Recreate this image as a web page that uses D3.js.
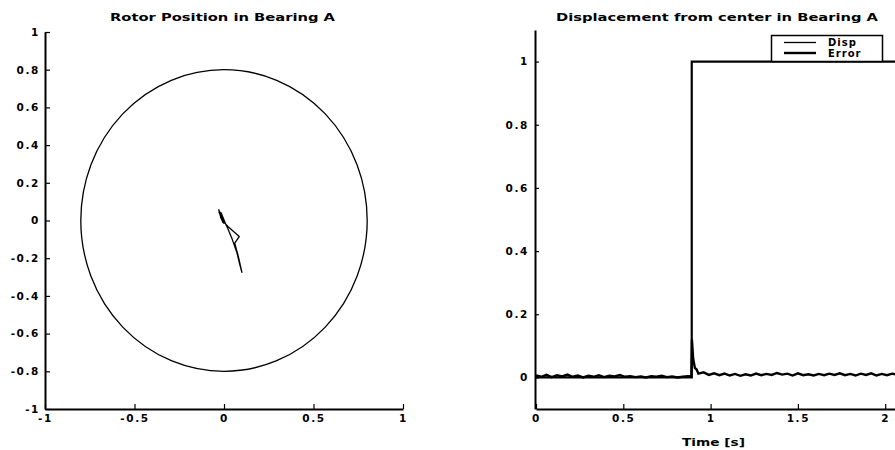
<!DOCTYPE html>
<html>
<head>
<meta charset="utf-8">
<script src="https://cdn.jsdelivr.net/npm/d3@7"></script>
<style>
  body { margin: 0; background: #fff; }
  svg { display: block; }
  .tick text, .lbl { font-family: "DejaVu Sans", sans-serif; font-weight: bold; fill: #000; }
</style>
</head>
<body>
<div id="chart"></div>
<script>
// ---- data -------------------------------------------------------------
const rotorTicksY = [-1, -0.8, -0.6, -0.4, -0.2, 0, 0.2, 0.4, 0.6, 0.8, 1];
const rotorTicksX = [-1, -0.5, 0, 0.5, 1];
const clearanceRadius = 0.8;

// rotor orbit in bearing A (x, y)
const rotorPath = [
  [-0.03, 0.06], [-0.02, 0.03], [-0.026, 0.05], [-0.01, 0.0], [-0.028, 0.045],
  [-0.006, -0.01], [-0.02, 0.02], [0.0, -0.015], [-0.016, 0.04], [0.01, -0.02],
  [0.022, -0.032], [0.085, -0.085], [0.06, -0.12], [0.08, -0.19], [0.1, -0.275],
  [0.09, -0.24], [0.072, -0.17], [0.046, -0.1], [0.02, -0.04], [0.0, 0.0],
  [-0.02, 0.04], [-0.03, 0.055]
];

const dispTicksY = [0, 0.2, 0.4, 0.6, 0.8, 1];
const dispTicksX = [0, 0.5, 1, 1.5, 2];

// displacement step (time, value)
const dispSeries = [[0, 0], [0.892, 0], [0.892, 1], [2.5, 1]];

// error signal (time, value)
const errorSeries = [
  [0.00, 0.006], [0.03, 0.002], [0.06, 0.008], [0.09, 0.001], [0.12, 0.007],
  [0.15, 0.003], [0.18, 0.009], [0.21, 0.002], [0.24, 0.006], [0.27, 0.000],
  [0.30, 0.005], [0.33, 0.002], [0.36, 0.007], [0.39, 0.001], [0.42, 0.005],
  [0.45, 0.003], [0.48, 0.008], [0.51, 0.002], [0.54, 0.004], [0.57, 0.001],
  [0.60, 0.003], [0.63, 0.000], [0.66, 0.004], [0.69, 0.002], [0.72, 0.005],
  [0.75, 0.001], [0.78, 0.003], [0.81, 0.000], [0.84, 0.002], [0.87, 0.004],
  [0.89, 0.003], [0.893, 0.12], [0.90, 0.06], [0.91, 0.03], [0.92, 0.025],
  [0.93, 0.012], [0.96, 0.016], [0.99, 0.008], [1.02, 0.013], [1.05, 0.007],
  [1.08, 0.012], [1.11, 0.006], [1.14, 0.011], [1.17, 0.005], [1.20, 0.010],
  [1.23, 0.006], [1.26, 0.012], [1.29, 0.007], [1.32, 0.011], [1.35, 0.008],
  [1.38, 0.014], [1.41, 0.009], [1.44, 0.012], [1.47, 0.006], [1.50, 0.013],
  [1.53, 0.007], [1.56, 0.010], [1.59, 0.006], [1.62, 0.011], [1.65, 0.007],
  [1.68, 0.012], [1.71, 0.008], [1.74, 0.013], [1.77, 0.007], [1.80, 0.011],
  [1.83, 0.006], [1.86, 0.012], [1.89, 0.008], [1.92, 0.013], [1.95, 0.006],
  [1.98, 0.011], [2.01, 0.007], [2.04, 0.012], [2.07, 0.008], [2.10, 0.011],
  [2.20, 0.007], [2.30, 0.012], [2.40, 0.008], [2.50, 0.010]
];

const legendItems = [
  { name: 'Disp', width: 1.3 },
  { name: 'Error', width: 2.4 }
];

// ---- svg --------------------------------------------------------------
const width = 895, height = 450;

const svg = d3.select('#chart').append('svg')
  .attr('width', width)
  .attr('height', height)
  .attr('viewBox', [0, 0, width, height]);

function styleAxis(g) {
  g.select('.domain').attr('stroke', '#000').attr('stroke-width', 2);
  g.selectAll('.tick line').attr('stroke', '#000').attr('stroke-width', 1.2);
  g.selectAll('.tick text')
    .attr('font-size', 10.5)
    .attr('letter-spacing', 1.6);
}

const fmt = d => String(d);

// ---- left: rotor position --------------------------------------------
const xL = d3.scaleLinear().domain([-1, 1]).range([45, 403]);
const yL = d3.scaleLinear().domain([-1, 1]).range([409, 32]);

const left = svg.append('g').attr('id', 'rotor');

left.append('ellipse')
  .attr('cx', xL(0))
  .attr('cy', yL(0))
  .attr('rx', xL(clearanceRadius) - xL(0))
  .attr('ry', yL(0) - yL(clearanceRadius))
  .attr('fill', 'none')
  .attr('stroke', '#000')
  .attr('stroke-width', 1.3);

left.append('path')
  .datum(rotorPath)
  .attr('d', d3.line().x(d => xL(d[0])).y(d => yL(d[1])))
  .attr('fill', 'none')
  .attr('stroke', '#000')
  .attr('stroke-width', 1.3)
  .attr('stroke-linejoin', 'round');

left.append('g')
  .attr('transform', `translate(${xL(-1)},0)`)
  .call(d3.axisLeft(yL).tickValues(rotorTicksY).tickFormat(fmt)
    .tickSizeInner(-5).tickSizeOuter(0).tickPadding(5))
  .call(styleAxis);

left.append('g')
  .attr('transform', `translate(0,${yL(-1)})`)
  .call(d3.axisBottom(xL).tickValues(rotorTicksX).tickFormat(fmt)
    .tickSizeInner(-5).tickSizeOuter(0).tickPadding(6))
  .call(styleAxis);

left.append('text')
  .attr('class', 'lbl')
  .attr('x', 110).attr('y', 20.5)
  .attr('font-size', 10.5)
  .attr('textLength', 225)
  .attr('lengthAdjust', 'spacingAndGlyphs')
  .text('Rotor Position in Bearing A');

// ---- right: displacement ---------------------------------------------
const xR = d3.scaleLinear().domain([0, 2.5]).range([536, 536 + 2.5 * 174.6]);
const yR = d3.scaleLinear().domain([-0.1, 1.1]).range([409, 30]);

const right = svg.append('g').attr('id', 'displacement');

const lineR = d3.line().x(d => xR(d[0])).y(d => yR(d[1]));

right.append('path')
  .datum(errorSeries)
  .attr('d', lineR)
  .attr('fill', 'none')
  .attr('stroke', '#000')
  .attr('stroke-width', 2.4);

right.append('path')
  .datum(dispSeries)
  .attr('d', lineR)
  .attr('fill', 'none')
  .attr('stroke', '#000')
  .attr('stroke-width', 2.2);

right.append('g')
  .attr('transform', `translate(535,0)`)
  .call(d3.axisLeft(yR).tickValues(dispTicksY).tickFormat(fmt)
    .tickSizeInner(-4).tickSizeOuter(0).tickPadding(6))
  .call(styleAxis);

right.append('g')
  .attr('transform', `translate(0,${yR(-0.1)})`)
  .call(d3.axisBottom(xR).tickValues(dispTicksX).tickFormat(fmt)
    .tickSizeInner(-5).tickSizeOuter(0).tickPadding(6))
  .call(styleAxis);

right.append('text')
  .attr('class', 'lbl')
  .attr('x', 556).attr('y', 20.5)
  .attr('font-size', 10.5)
  .attr('textLength', 322)
  .attr('lengthAdjust', 'spacingAndGlyphs')
  .text('Displacement from center in Bearing A');

right.append('text')
  .attr('class', 'lbl')
  .attr('x', 682).attr('y', 446)
  .attr('font-size', 10.5)
  .attr('textLength', 63)
  .attr('lengthAdjust', 'spacingAndGlyphs')
  .text('Time [s]');

// legend
const legend = right.append('g').attr('id', 'legend');
legend.append('rect')
  .attr('x', 771.5).attr('y', 35.5)
  .attr('width', 111).attr('height', 26)
  .attr('fill', '#fff')
  .attr('stroke', '#000')
  .attr('stroke-width', 1.5);

const li = legend.selectAll('g.item')
  .data(legendItems)
  .join('g')
  .attr('class', 'item')
  .attr('transform', (d, i) => `translate(0,${42.5 + i * 10.5})`);

li.append('line')
  .attr('x1', 784).attr('x2', 816)
  .attr('stroke', '#000')
  .attr('stroke-width', d => d.width);

li.append('text')
  .attr('class', 'lbl')
  .attr('x', 828).attr('y', 3.5)
  .attr('font-size', 10)
  .attr('letter-spacing', 1)
  .text(d => d.name);
</script>
</body>
</html>
